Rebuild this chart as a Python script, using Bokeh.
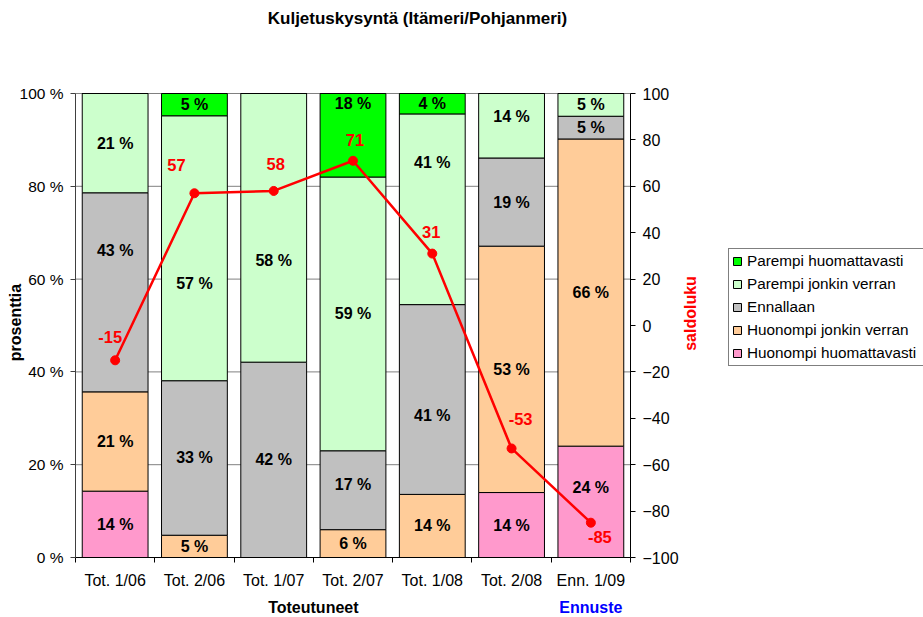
import numpy as np
from bokeh.plotting import figure
from bokeh.models import (ColumnDataSource, Range1d, LinearAxis, FixedTicker,
                          PrintfTickFormatter, Legend, LegendItem, LabelSet, Label)
from bokeh.core.properties import value
from bokeh.embed import file_html
from bokeh.resources import INLINE

# ---------------- data ----------------
categories = ["Tot. 1/06", "Tot. 2/06", "Tot. 1/07", "Tot. 2/07", "Tot. 1/08", "Tot. 2/08", "Enn. 1/09"]
huonompi_huom = [14.3, 0, 0, 0, 0, 14.0, 24.0]
huonompi_jonkin = [21.4, 4.8, 0, 6.0, 13.6, 53.1, 66.2]
ennallaan = [42.9, 33.3, 42.1, 17.0, 40.9, 19.0, 4.9]
parempi_jonkin = [21.4, 57.1, 57.9, 59.0, 41.1, 13.9, 4.9]
parempi_huom = [0, 4.8, 0, 18.0, 4.4, 0, 0]
saldoluku = [-15, 57, 58, 71, 31, -53, -85]
group_names = ["Toteutuneet", "Ennuste"]
group_sizes = [6, 1]
left_ticks = [0, 20, 40, 60, 80, 100]
right_ticks = [-100, -80, -60, -40, -20, 0, 20, 40, 60, 80, 100]

series_names = ["Huonompi huomattavasti", "Huonompi jonkin verran", "Ennallaan",
                "Parempi jonkin verran", "Parempi huomattavasti"]
series_values = [huonompi_huom, huonompi_jonkin, ennallaan, parempi_jonkin, parempi_huom]

# ---------------- styles / layout ----------------
series_colors = ["#FF99CC", "#FFCC99", "#C0C0C0", "#CCFFCC", "#00FF00"]
group_colors = ["black", "#0000FF"]
FONT = "Liberation Sans"
W, H = 923, 617
FRAME_L, FRAME_R, FRAME_T, FRAME_B = 75, 630, 93, 557
# saldo label offsets (screen px, + = up)
saldo_dx = [-5, -18, 2, 2, -1, 9, 9]
saldo_dy = [23, 28, 27, 21, 22, 29, -14]
# manual nudges of bar labels (screen px, + = up), as in the original chart
label_nudge = {(0, "Ennallaan"): 42, (1, "Parempi jonkin verran"): -35,
               (2, "Parempi jonkin verran"): -33, (3, "Parempi huomattavasti"): 32,
               (3, "Ennallaan"): 6, (4, "Parempi jonkin verran"): 47,
               (4, "Ennallaan"): -16, (5, "Parempi jonkin verran"): 9,
               (6, "Huonompi huomattavasti"): 14}

n = len(categories)
xpos = list(np.arange(n) + 1)
x_lo, x_hi = xpos[0] - 0.5, xpos[-1] + 0.5
ppx = (FRAME_R - FRAME_L) / (x_hi - x_lo)
x_range = Range1d(x_lo - FRAME_L / ppx, x_hi + (W - FRAME_R) / ppx)
ppy = (FRAME_B - FRAME_T) / (left_ticks[-1] - left_ticks[0])
y_range = Range1d(left_ticks[0] - (H - FRAME_B) / ppy, left_ticks[-1] + FRAME_T / ppy)
pps = (FRAME_B - FRAME_T) / (right_ticks[-1] - right_ticks[0])
saldo_range = Range1d(right_ticks[0] - (H - FRAME_B) / pps, right_ticks[-1] + FRAME_T / pps)

data = {"x": xpos}
for nm, v in zip(series_names, series_values):
    data[nm] = v
source = ColumnDataSource(data)

p = figure(width=W, height=H, x_range=x_range, y_range=y_range,
           output_backend="svg", toolbar_location=None,
           min_border_left=0, min_border_right=0, min_border_top=0, min_border_bottom=0)
p.outline_line_color = None
p.background_fill_color = "white"
p.border_fill_color = "white"
p.xgrid.visible = False
p.ygrid.visible = False
p.extra_y_ranges = {"saldo": saldo_range}

# gridlines at the left-axis ticks, across the category area
p.segment(x0=[x_lo] * len(left_ticks), x1=[x_hi] * len(left_ticks),
          y0=left_ticks, y1=left_ticks, line_color="#808080", line_width=1)

renderers = p.vbar_stack(series_names, x="x", width=0.83, source=source,
                         fill_color=series_colors, line_color="black", line_width=1)

# x-axis
xa = p.xaxis[0]
xa.fixed_location = left_ticks[0]
xa.bounds = (x_lo, x_hi)
xa.ticker = FixedTicker(ticks=xpos, minor_ticks=[x - 0.5 for x in xpos] + [x_hi])
xa.major_label_overrides = {int(x): c for x, c in zip(xpos, categories)}
xa.major_tick_out = 0
xa.major_tick_in = 0
xa.minor_tick_out = 5
xa.minor_tick_in = 0
xa.minor_tick_line_color = "black"
xa.axis_line_color = "black"
xa.major_label_text_font = FONT
xa.major_label_text_font_size = "16px"
xa.major_label_text_color = "black"
xa.major_label_standoff = 9

# left y-axis
ya = p.yaxis[0]
ya.fixed_location = x_lo
ya.bounds = (left_ticks[0], left_ticks[-1])
ya.ticker = FixedTicker(ticks=left_ticks, minor_ticks=[])
ya.formatter = PrintfTickFormatter(format="%d %%")
ya.major_tick_out = 5
ya.major_tick_in = 0
ya.minor_tick_line_color = None
ya.axis_line_color = "#404040"
ya.major_tick_line_color = "#404040"
ya.major_label_text_font = FONT
ya.major_label_text_font_size = "15.5px"
ya.major_label_text_color = "black"
ya.major_label_standoff = 7

# right y-axis (saldoluku)
ra = LinearAxis(y_range_name="saldo", fixed_location=x_hi)
ra.bounds = (right_ticks[0], right_ticks[-1])
ra.ticker = FixedTicker(ticks=right_ticks, minor_ticks=[])
ra.major_tick_out = 5
ra.major_tick_in = 0
ra.minor_tick_line_color = None
ra.axis_line_color = "black"
ra.major_tick_line_color = "black"
ra.major_label_text_font = FONT
ra.major_label_text_font_size = "16px"
ra.major_label_text_color = "black"
ra.major_label_standoff = 7
p.add_layout(ra, "right")

# bar labels
lx, ly, lt, lo = [], [], [], []
for i, x in enumerate(xpos):
    base = 0.0
    for nm, vals in zip(series_names, series_values):
        v = vals[i]
        if v > 0:
            lx.append(x)
            ly.append(base + v / 2)
            lt.append(f"{round(v)} %")
            lo.append(label_nudge.get((i, nm), 0))
        base += v
lsrc = ColumnDataSource(dict(x=lx, y=ly, t=lt, dy=lo))
p.add_layout(LabelSet(x="x", y="y", text="t", y_offset="dy", source=lsrc,
                      text_align="center", text_baseline="middle",
                      text_font=value(FONT), text_font_size=value("16px"),
                      text_font_style="bold", text_color="black"))

# saldo line
ssrc = ColumnDataSource(dict(x=xpos, y=saldoluku, t=[str(s) for s in saldoluku],
                             dx=saldo_dx, dy=saldo_dy))
p.line("x", "y", source=ssrc, y_range_name="saldo", line_color="#FF0000", line_width=2.5)
p.scatter("x", "y", source=ssrc, y_range_name="saldo", marker="circle", size=9,
          fill_color="#FF0000", line_color="#FF0000")
p.add_layout(LabelSet(x="x", y="y", text="t", source=ssrc, y_range_name="saldo",
                      x_offset="dx", y_offset="dy", text_align="center",
                      text_baseline="middle", text_font=value(FONT),
                      text_font_size=value("16.5px"), text_font_style="bold",
                      text_color="#FF0000"))

# legend
items = [LegendItem(label=nm, renderers=[r]) for nm, r in zip(series_names, renderers)]
items = items[::-1]
legend = Legend(items=items, location=(728, H - 366), orientation="vertical",
                glyph_width=10, glyph_height=10, label_height=18, label_width=200,
                spacing=5, padding=3, margin=0, label_standoff=5,
                label_text_font=FONT, label_text_font_size="15.3px",
                label_text_color="black", border_line_color="black",
                border_line_width=1, background_fill_color="white",
                background_fill_alpha=1.0)
p.add_layout(legend, "center")

# titles (screen units: frame == canvas)
p.add_layout(Label(x=417, y=H - 18, x_units="screen", y_units="screen",
                   text="Kuljetuskysyntä (Itämeri/Pohjanmeri)", text_align="center",
                   text_baseline="middle", text_font=FONT, text_font_size="17px",
                   text_font_style="bold", text_color="black"))
p.add_layout(Label(x=15, y=H - 322, x_units="screen", y_units="screen", angle=np.pi / 2,
                   text="prosenttia", text_align="center", text_baseline="middle",
                   text_font=FONT, text_font_size="16px", text_font_style="bold",
                   text_color="black"))
p.add_layout(Label(x=690, y=H - 313, x_units="screen", y_units="screen", angle=np.pi / 2,
                   text="saldoluku", text_align="center", text_baseline="middle",
                   text_font=FONT, text_font_size="16px", text_font_style="bold",
                   text_color="#FF0000"))

# group labels under the category labels
start = 0
for name, size, col in zip(group_names, group_sizes, group_colors):
    cx = float(np.mean(xpos[start:start + size]))
    p.add_layout(Label(x=cx, y=H - 607, y_units="screen", text=name, text_align="center",
                       text_baseline="middle", text_font=FONT, text_font_size="16px",
                       text_font_style="bold", text_color=col))
    start += size

open("out.html", "w").write(file_html(p, INLINE))
